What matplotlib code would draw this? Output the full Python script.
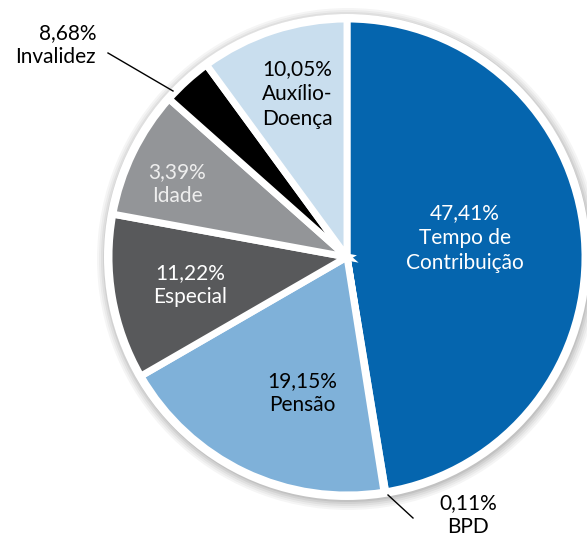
import matplotlib.pyplot as plt
from matplotlib.patches import Circle

plt.rcParams['font.family'] = ['Lato', 'DejaVu Sans']

# --- Dados (tamanho das fatias como desenhadas, rótulos como impressos) ---
categorias = ["Tempo de\nContribuição", "BPD", "Pensão", "Especial", "Idade", "Invalidez", "Auxílio-\nDoença"]
valores = [47.41, 0.11, 19.15, 11.22, 8.68, 3.39, 10.05]
rotulos_pct = ["47,41%", "0,11%", "19,15%", "11,22%", "3,39%", "8,68%", "10,05%"]
cores = ["#0565ae", "#7fb2da", "#7fb1d9", "#58595b", "#939598", "#000000", "#c9deee"]
cor_texto = ["white", "black", "black", "white", "#eeeeee", "black", "black"]

W, H = 587, 537
fig = plt.figure(figsize=(W / 100, H / 100), dpi=100)
ax = fig.add_axes([0, 0, 1, 1])

cx, cy, r = 347, H - 257, 238

# sombra + aro branco
for i, a in enumerate([0.04, 0.04, 0.05, 0.06, 0.07]):
    ax.add_patch(Circle((cx + 1, cy - 2), r + 13 - 2 * i, color="black", alpha=a, lw=0, zorder=0))
ax.add_patch(Circle((cx, cy), r + 5, color="white", lw=0, zorder=1))

wedges, _ = ax.pie(valores, colors=cores, startangle=90, counterclock=False,
                   radius=r, center=(cx, cy), frame=True,
                   wedgeprops=dict(edgecolor="white", linewidth=5))
for w in wedges:
    w.set_zorder(2)

fs = 15
ls = 1.3
# rótulos internos (posições em pixels da figura)
pos_internos = {0: (465, 238), 2: (302, 393), 3: (190, 285), 4: (177, 184), 6: (297, 94)}
for i, (x, y) in pos_internos.items():
    ax.text(x, H - y, rotulos_pct[i] + "\n" + categorias[i], ha="center", va="center",
            fontsize=fs, color=cor_texto[i], linespacing=ls, zorder=5)

# rótulos externos com linhas de chamada
ax.text(96, H - 45, rotulos_pct[5] + "\n" + categorias[5], ha="right", va="center",
        fontsize=fs, color="black", linespacing=ls, zorder=5)
ax.plot([108, 173], [H - 53, H - 91], color="black", lw=1, zorder=5)

ax.text(468, H - 515, rotulos_pct[1] + "\n" + categorias[1], ha="center", va="center",
        fontsize=fs, color="black", linespacing=ls, zorder=5)
ax.plot([388, 413], [H - 495, H - 518], color="black", lw=1, zorder=5)

ax.set_xlim(0, W)
ax.set_ylim(0, H)
ax.set_aspect("equal")
ax.axis("off")

fig.savefig("out.png", dpi=100)
